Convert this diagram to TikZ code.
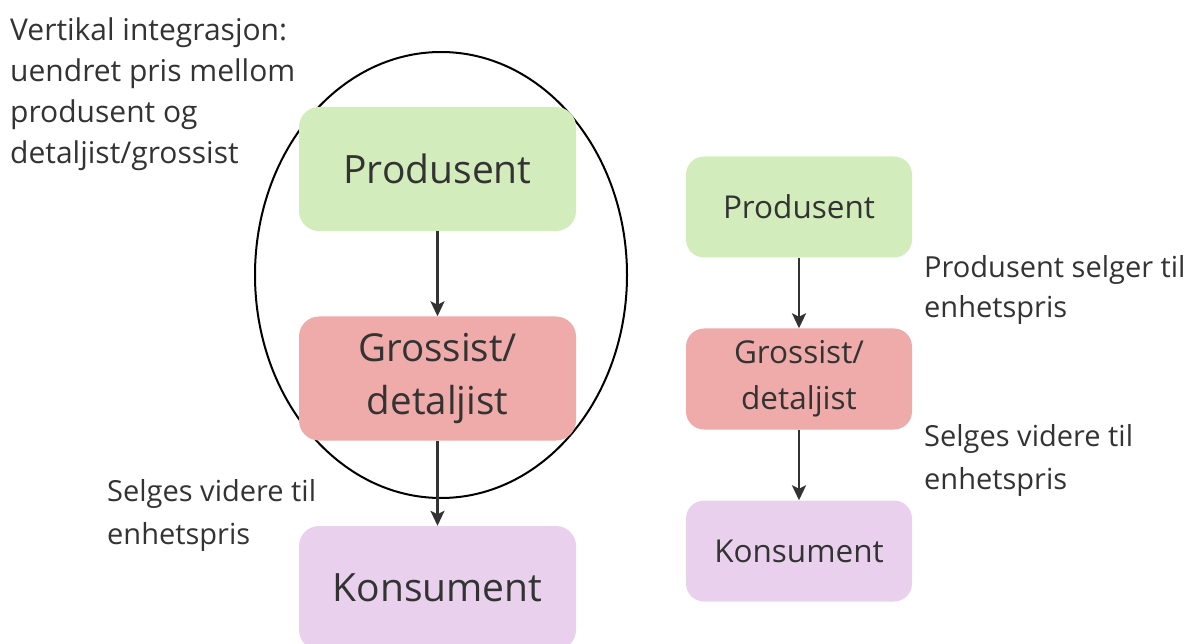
\documentclass[tikz,border=0pt]{standalone}
\usepackage{fontspec}
\setmainfont{Open Sans}
\usetikzlibrary{arrows.meta}
\definecolor{prodgreen}{HTML}{D3ECBB}
\definecolor{grosred}{HTML}{EEABA9}
\definecolor{konslilac}{HTML}{E9D1EE}
\definecolor{ink}{HTML}{333333}
\begin{document}
\begin{tikzpicture}[x=1pt,y=-1pt,
  bigbox/.style={rounded corners=20pt, minimum width=277pt, minimum height=124pt,
    inner sep=0pt, text=ink, align=center, font=\fontsize{39}{53}\selectfont},
  smallbox/.style={rounded corners=18pt, minimum width=226pt, minimum height=101pt,
    inner sep=0pt, text=ink, align=center, font=\fontsize{31.5}{46}\selectfont},
  note/.style={anchor=west, inner sep=0pt, text=ink, align=left},
  flow/.style={draw=ink, line width=2.6pt, -{Stealth[length=15pt,width=14pt,inset=3.5pt]}}
]
\useasboundingbox (0,0) rectangle (1192,644);

% vertical integration ring
\draw[line width=2pt, black] (441,275) ellipse [x radius=186, y radius=223];

% integrated chain
\node[bigbox, fill=prodgreen] (p1) at (437.5,169) {Produsent};
\node[bigbox, fill=grosred, font=\fontsize{38.5}{53}\selectfont] (g1) at (437.5,378.5) {Grossist/\\detaljist};
\node[bigbox, fill=konslilac] (k1) at (437.5,588) {Konsument};
\draw[flow] (p1) -- (g1);
\draw[flow] (g1) -- (k1);

% separate chain
\node[smallbox, fill=prodgreen] (p2) at (799,207) {Produsent};
\node[smallbox, fill=grosred] (g2) at (799,379) {Grossist/\\detaljist};
\node[smallbox, fill=konslilac] (k2) at (799,551) {Konsument};
\draw[flow] (p2) -- (g2);
\draw[flow] (g2) -- (k2);

% labels
\node[note, font=\fontsize{30}{41}\selectfont] (lv) at (10,94)
  {Vertikal integrasjon:\\uendret pris mellom\\produsent og\\detaljist/grossist};
\node[note, font=\fontsize{29}{43}\selectfont] (ls) at (107,515)
  {Selges videre til\\enhetspris};
\node[note, font=\fontsize{29}{40}\selectfont] (rp) at (924,290)
  {Produsent selger til\\enhetspris};
\node[note, font=\fontsize{29}{43}\selectfont] (rs) at (924,460)
  {Selges videre til\\enhetspris};
\end{tikzpicture}
\end{document}
